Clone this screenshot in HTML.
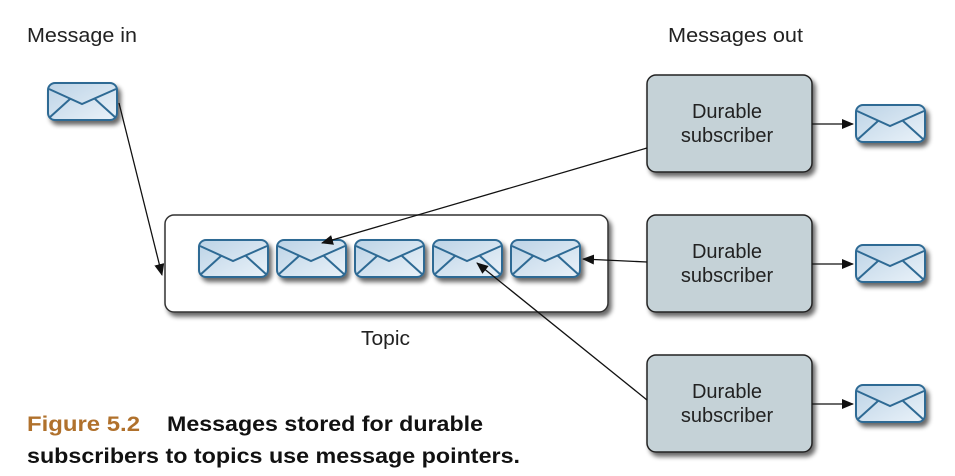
<!DOCTYPE html>
<html><head><meta charset="utf-8"><style>
body{margin:0;background:#fff;width:955px;height:476px;overflow:hidden}
svg{display:block;font-family:"Liberation Sans",sans-serif}
</style></head><body>
<svg width="955" height="476" viewBox="0 0 955 476">
<defs>
<linearGradient id="eg" x1="0" y1="0" x2="1" y2="1">
<stop offset="0" stop-color="#bcd3e6"/><stop offset="1" stop-color="#eaf2f9"/>
</linearGradient>
<filter id="sh" x="-20%" y="-20%" width="150%" height="160%">
<feGaussianBlur in="SourceAlpha" stdDeviation="2.5"/><feOffset dx="3" dy="4"/>
<feComponentTransfer><feFuncA type="linear" slope="0.6"/></feComponentTransfer>
<feMerge><feMergeNode/><feMergeNode in="SourceGraphic"/></feMerge></filter>
<marker id="ah" markerWidth="12" markerHeight="10" refX="11" refY="5" orient="auto" markerUnits="userSpaceOnUse">
<path d="M0,0 L12,5 L0,10 z" fill="#111"/></marker>
<g id="env">
<rect x="0" y="0" width="69" height="37" rx="7" fill="url(#eg)" stroke="#2e6a94" stroke-width="2"/>
<path d="M1,6 L34,21 L68,6 M1,35 L22,16 M68,35 L47,16" fill="none" stroke="#2e6a94" stroke-width="2"/>
</g>
</defs>
<text x="27" y="42" font-size="20" fill="#222" textLength="110" lengthAdjust="spacingAndGlyphs">Message in</text>
<text x="668" y="42" font-size="20" fill="#222" textLength="135" lengthAdjust="spacingAndGlyphs">Messages out</text>
<g filter="url(#sh)"><use href="#env" x="48" y="83"/></g>
<rect x="165" y="215" width="443" height="97" rx="9" fill="#fff" stroke="#333" stroke-width="1.5" filter="url(#sh)"/>
<g filter="url(#sh)">
<use href="#env" x="199" y="240"/><use href="#env" x="277" y="240"/><use href="#env" x="355" y="240"/><use href="#env" x="433" y="240"/><use href="#env" x="511" y="240"/>
</g>
<text x="361" y="345" font-size="20" fill="#222" textLength="49" lengthAdjust="spacingAndGlyphs">Topic</text>
<g filter="url(#sh)">
<rect x="647" y="75" width="165" height="97" rx="9" fill="#c5d2d7" stroke="#222" stroke-width="1.5"/>
<rect x="647" y="215" width="165" height="97" rx="9" fill="#c5d2d7" stroke="#222" stroke-width="1.5"/>
<rect x="647" y="355" width="165" height="97" rx="9" fill="#c5d2d7" stroke="#222" stroke-width="1.5"/>
</g>
<g font-size="20" fill="#222" text-anchor="middle">
<text x="727" y="118">Durable</text><text x="727" y="142">subscriber</text>
<text x="727" y="258">Durable</text><text x="727" y="282">subscriber</text>
<text x="727" y="398">Durable</text><text x="727" y="422">subscriber</text>
</g>
<g filter="url(#sh)">
<use href="#env" x="856" y="105"/><use href="#env" x="856" y="245"/><use href="#env" x="856" y="385"/>
</g>
<g stroke="#111" stroke-width="1.3" fill="none" marker-end="url(#ah)">
<line x1="119" y1="103" x2="162" y2="275"/>
<line x1="647" y1="148" x2="322" y2="243"/>
<line x1="647" y1="262" x2="583" y2="259"/>
<line x1="647" y1="400" x2="477" y2="263"/>
<line x1="812" y1="124" x2="853" y2="124"/>
<line x1="812" y1="264" x2="853" y2="264"/>
<line x1="812" y1="404" x2="853" y2="404"/>
</g>
<text x="27" y="431" font-size="21" font-weight="bold" fill="#b0712c" textLength="113" lengthAdjust="spacingAndGlyphs">Figure 5.2</text>
<text x="167" y="431" font-size="21" font-weight="bold" fill="#111" textLength="316" lengthAdjust="spacingAndGlyphs">Messages stored for durable</text>
<text x="27" y="463" font-size="21" font-weight="bold" fill="#111" textLength="493" lengthAdjust="spacingAndGlyphs">subscribers to topics use message pointers.</text>
</svg>
</body></html>
